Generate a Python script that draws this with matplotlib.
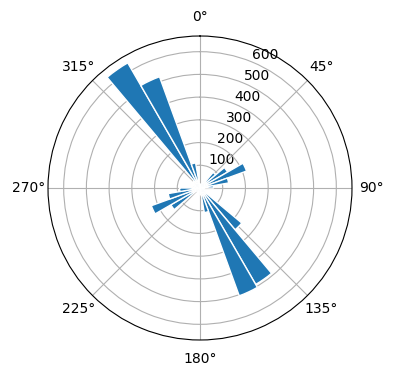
import numpy as np
import matplotlib
matplotlib.use("Agg")
import matplotlib.pyplot as plt

# direction bins (centre, degrees) and counts
directions = [5, 15, 25, 35, 45, 55, 65, 75, 85, 95, 105, 115,
              125, 135, 145, 155, 165, 175, 185, 195, 205, 215, 225, 235,
              245, 255, 265, 275, 285, 295, 305, 315, 325, 335, 345, 355]
counts = [15, 10, 20, 40, 90, 140, 218, 128, 60, 20, 10, 15,
          30, 240, 490, 505, 110, 30, 10, 5, 10, 15, 20, 148,
          228, 142, 90, 30, 20, 15, 30, 40, 636, 521, 112, 20]
bin_width = 10

fig = plt.figure(figsize=(3.96, 3.80), dpi=100)
ax = fig.add_axes([48 / 396, 40 / 380, 304 / 396, 304 / 380], projection="polar")
ax.set_theta_zero_location("N")
ax.set_theta_direction(-1)

ax.bar(np.deg2rad(directions), counts, width=np.deg2rad(bin_width),
       color="#1f77b4", edgecolor="white", linewidth=1)

ax.set_rmax(669)
ax.set_rticks([100, 200, 300, 400, 500, 600])
ax.grid(True, color="#b0b0b0", linewidth=0.8)
ax.set_axisbelow(True)

fig.savefig("out.png", dpi=100)
